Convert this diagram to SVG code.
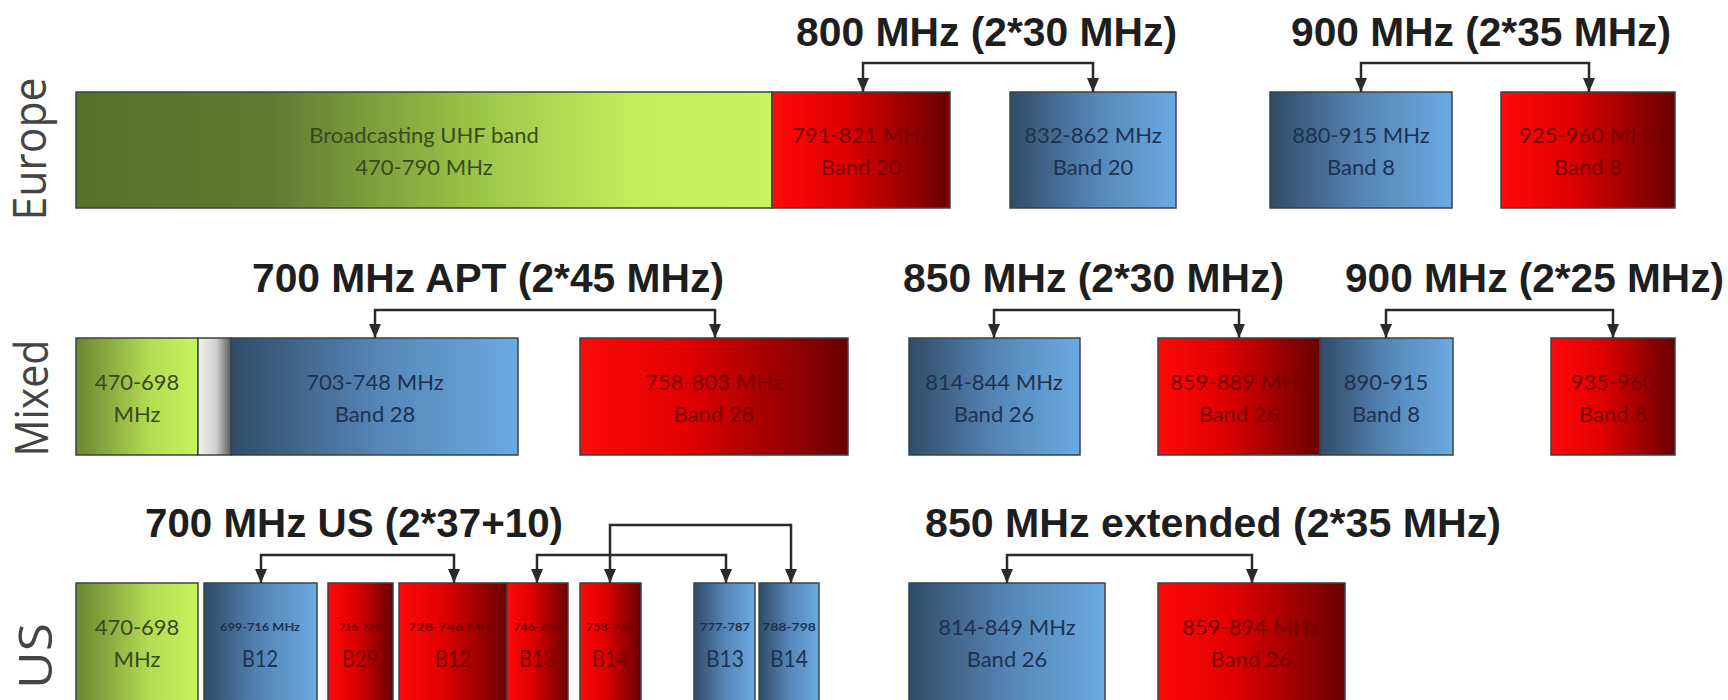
<svg xmlns="http://www.w3.org/2000/svg" width="1728" height="700" viewBox="0 0 1728 700">
<defs>
<linearGradient id="gEU" x1="0" y1="0" x2="1" y2="0">
<stop offset="0" stop-color="#56702c"/><stop offset="0.28" stop-color="#5f7b31"/><stop offset="0.58" stop-color="#9cc648"/><stop offset="0.8" stop-color="#c4ee5c"/><stop offset="1" stop-color="#c8f460"/>
</linearGradient>
<linearGradient id="gGreen" x1="0" y1="0" x2="1" y2="0">
<stop offset="0" stop-color="#6a8530"/><stop offset="0.6" stop-color="#b2dc52"/><stop offset="1" stop-color="#c8f45e"/>
</linearGradient>
<linearGradient id="gBlue" x1="0" y1="0" x2="1" y2="0">
<stop offset="0" stop-color="#304b68"/><stop offset="0.5" stop-color="#5585b5"/><stop offset="1" stop-color="#6aaae2"/>
</linearGradient>
<linearGradient id="gRed" x1="0" y1="0" x2="1" y2="0">
<stop offset="0" stop-color="#ff0a0a"/><stop offset="0.4" stop-color="#e00000"/><stop offset="1" stop-color="#6a0000"/>
</linearGradient>
<linearGradient id="gGray" x1="0" y1="0" x2="1" y2="0">
<stop offset="0" stop-color="#f0f0f0"/><stop offset="0.55" stop-color="#d0d0d0"/><stop offset="1" stop-color="#5a5a5a"/>
</linearGradient>
<marker id="arr" viewBox="0 0 14 12" refX="14" refY="6" markerWidth="14" markerHeight="12" markerUnits="userSpaceOnUse" orient="auto-start-reverse">
<path d="M0,0 L14,6 L0,12 z" fill="#2a2a2a"/>
</marker>
</defs>
<style>
.box{stroke:#3a4444;stroke-width:1.5}
.eu{fill:url(#gEU)}
.gr{fill:url(#gGreen)}
.bl{fill:url(#gBlue)}
.rd{fill:url(#gRed)}
.gy{fill:url(#gGray)}
.t{font-family:Lato,"Open Sans","Liberation Sans",sans-serif;font-size:22px;text-anchor:middle}
.tg{fill:#3a4a1c}
.tb{fill:#1e3250}
.tr{fill:#780000}
.sm{font-size:12px;font-weight:bold}
.bg{font-size:24px}
.title{font-family:"Liberation Sans",Arial,sans-serif;font-size:40px;font-weight:bold;fill:#1e1e1e}
.row{font-family:"Open Sans",Lato,"Liberation Sans",sans-serif;font-size:46px;font-weight:400;fill:#444;text-anchor:middle}
.con{fill:none;stroke:#2a2a2a;stroke-width:2.5;marker-start:url(#arr);marker-end:url(#arr)}
</style>
<rect width="1728" height="700" fill="#ffffff"/>

<g id="labels">
<text class="row" transform="translate(46,149) rotate(-90)" textLength="143" lengthAdjust="spacingAndGlyphs">Europe</text>
<text class="row" transform="translate(48,398) rotate(-90)" textLength="117" lengthAdjust="spacingAndGlyphs">Mixed</text>
<text class="row" transform="translate(52,656) rotate(-90)" textLength="66" lengthAdjust="spacingAndGlyphs">US</text>
</g>

<g id="titles">
<text class="title" x="796" y="46" textLength="381" lengthAdjust="spacingAndGlyphs">800 MHz (2*30 MHz)</text>
<text class="title" x="1291" y="46" textLength="380" lengthAdjust="spacingAndGlyphs">900 MHz (2*35 MHz)</text>
<text class="title" x="252" y="292" textLength="472" lengthAdjust="spacingAndGlyphs">700 MHz APT (2*45 MHz)</text>
<text class="title" x="903" y="292" textLength="381" lengthAdjust="spacingAndGlyphs">850 MHz (2*30 MHz)</text>
<text class="title" x="1345" y="292" textLength="379" lengthAdjust="spacingAndGlyphs">900 MHz (2*25 MHz)</text>
<text class="title" x="145" y="537" textLength="418" lengthAdjust="spacingAndGlyphs">700 MHz US (2*37+10)</text>
<text class="title" x="925" y="537" textLength="576" lengthAdjust="spacingAndGlyphs">850 MHz extended (2*35 MHz)</text>
</g>

<!-- Europe row -->
<g id="eu-uhf"><rect class="box eu" x="76" y="92" width="696" height="116"/>
<text class="t tg" x="424" y="143">Broadcasting UHF band</text><text class="t tg" x="424" y="175">470-790 MHz</text></g>
<g id="eu-791"><rect class="box rd" x="772" y="92" width="178" height="116"/>
<text class="t tr" x="861" y="143">791-821 MHz</text><text class="t tr" x="861" y="175">Band 20</text></g>
<g id="eu-832"><rect class="box bl" x="1010" y="92" width="166" height="116"/>
<text class="t tb" x="1093" y="143">832-862 MHz</text><text class="t tb" x="1093" y="175">Band 20</text></g>
<g id="eu-880"><rect class="box bl" x="1270" y="92" width="182" height="116"/>
<text class="t tb" x="1361" y="143">880-915 MHz</text><text class="t tb" x="1361" y="175">Band 8</text></g>
<g id="eu-925"><rect class="box rd" x="1501" y="92" width="174" height="116"/>
<text class="t tr" x="1588" y="143">925-960 MHz</text><text class="t tr" x="1588" y="175">Band 8</text></g>

<!-- Mixed row -->
<g id="mx-470"><rect class="box gr" x="76" y="338" width="122" height="117"/>
<text class="t tg" x="137" y="390">470-698</text><text class="t tg" x="137" y="422">MHz</text></g>
<g id="mx-guard"><rect class="box gy" x="198" y="338" width="33" height="117"/></g>
<g id="mx-703"><rect class="box bl" x="231" y="338" width="287" height="117"/>
<text class="t tb" x="375" y="390">703-748 MHz</text><text class="t tb" x="375" y="422">Band 28</text></g>
<g id="mx-758"><rect class="box rd" x="580" y="338" width="268" height="117"/>
<text class="t tr" x="714" y="390">758-803 MHz</text><text class="t tr" x="714" y="422">Band 28</text></g>
<g id="mx-814"><rect class="box bl" x="909" y="338" width="171" height="117"/>
<text class="t tb" x="994" y="390">814-844 MHz</text><text class="t tb" x="994" y="422">Band 26</text></g>
<g id="mx-859"><rect class="box rd" x="1158" y="338" width="162" height="117"/>
<text class="t tr" x="1239" y="390">859-889 MHz</text><text class="t tr" x="1239" y="422">Band 26</text></g>
<g id="mx-890"><rect class="box bl" x="1320" y="338" width="133" height="117"/>
<text class="t tb" x="1386" y="390">890-915</text><text class="t tb" x="1386" y="422">Band 8</text></g>
<g id="mx-935"><rect class="box rd" x="1551" y="338" width="124" height="117"/>
<text class="t tr" x="1613" y="390">935-960</text><text class="t tr" x="1613" y="422">Band 8</text></g>

<!-- US row -->
<g id="us-470"><rect class="box gr" x="76" y="583" width="122" height="125"/>
<text class="t tg" x="137" y="635">470-698</text><text class="t tg" x="137" y="667">MHz</text></g>
<g id="us-699"><rect class="box bl" x="204" y="583" width="113" height="125"/>
<text class="t tb sm" x="260" y="631" textLength="80" lengthAdjust="spacingAndGlyphs">699-716 MHz</text><text class="t tb bg" x="260" y="667" textLength="36" lengthAdjust="spacingAndGlyphs">B12</text></g>
<g id="us-716"><rect class="box rd" x="328" y="583" width="65" height="125"/>
<text class="t tr sm" x="360" y="631" textLength="42" lengthAdjust="spacingAndGlyphs">716-728</text><text class="t tr bg" x="360" y="667" textLength="36" lengthAdjust="spacingAndGlyphs">B29</text></g>
<g id="us-728"><rect class="box rd" x="399" y="583" width="108" height="125"/>
<text class="t tr sm" x="453" y="631" textLength="90" lengthAdjust="spacingAndGlyphs">728-746 MHz</text><text class="t tr bg" x="453" y="667" textLength="36" lengthAdjust="spacingAndGlyphs">B12</text></g>
<g id="us-746"><rect class="box rd" x="507" y="583" width="61" height="125"/>
<text class="t tr sm" x="537" y="631" textLength="47" lengthAdjust="spacingAndGlyphs">746-756</text><text class="t tr bg" x="537" y="667" textLength="36" lengthAdjust="spacingAndGlyphs">B13</text></g>
<g id="us-758"><rect class="box rd" x="580" y="583" width="61" height="125"/>
<text class="t tr sm" x="610" y="631" textLength="48" lengthAdjust="spacingAndGlyphs">758-768</text><text class="t tr bg" x="610" y="667" textLength="36" lengthAdjust="spacingAndGlyphs">B14</text></g>
<g id="us-777"><rect class="box bl" x="694" y="583" width="61" height="125"/>
<text class="t tb sm" x="725" y="631" textLength="50" lengthAdjust="spacingAndGlyphs">777-787</text><text class="t tb bg" x="725" y="667" textLength="38" lengthAdjust="spacingAndGlyphs">B13</text></g>
<g id="us-788"><rect class="box bl" x="759" y="583" width="60" height="125"/>
<text class="t tb sm" x="789" y="631" textLength="54" lengthAdjust="spacingAndGlyphs">788-798</text><text class="t tb bg" x="789" y="667" textLength="38" lengthAdjust="spacingAndGlyphs">B14</text></g>
<g id="us-814"><rect class="box bl" x="909" y="583" width="196" height="125"/>
<text class="t tb" x="1007" y="635">814-849 MHz</text><text class="t tb" x="1007" y="667">Band 26</text></g>
<g id="us-859"><rect class="box rd" x="1158" y="583" width="187" height="125"/>
<text class="t tr" x="1251" y="635">859-894 MHz</text><text class="t tr" x="1251" y="667">Band 26</text></g>

<g id="connectors">
<path class="con" d="M863,92 V63 H1093 V92"/>
<path class="con" d="M1361,92 V63 H1589 V92"/>
<path class="con" d="M375,338 V310 H715 V338"/>
<path class="con" d="M994,338 V310 H1239 V338"/>
<path class="con" d="M1386,338 V310 H1613 V338"/>
<path class="con" d="M261,583 V555 H454 V583"/>
<path class="con" d="M537,583 V555 H726 V583"/>
<path class="con" d="M610,583 V525 H791 V583"/>
<path class="con" d="M1007,583 V555 H1252 V583"/>
</g>
</svg>
